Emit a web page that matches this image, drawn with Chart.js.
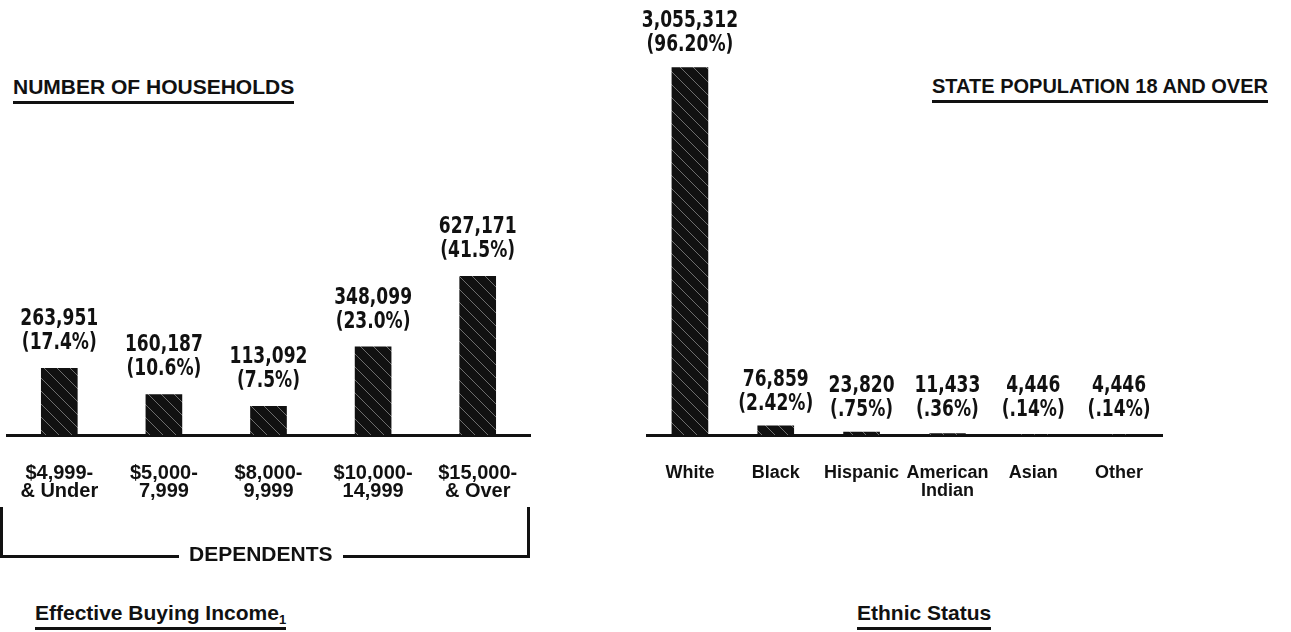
<!DOCTYPE html>
<html>
<head>
<meta charset="utf-8">
<script src="https://cdn.jsdelivr.net/npm/chart.js@4"></script>
<style>
body { margin: 0; background: #fff; width: 1291px; height: 632px; overflow: hidden; position: relative; font-family: "Liberation Sans", Arial, sans-serif; color: #111; }
canvas { position: absolute; }
.title { position: absolute; font-weight: bold; white-space: nowrap; border-bottom: 3px solid #111; line-height: 20px; height: 20px; }
.title sub { font-size: 13px; line-height: 0; vertical-align: -4px; }
.bracket { position: absolute; left: 0; top: 507px; width: 524px; height: 48px; border: 3px solid #111; border-top: none; }
.bracket span { position: absolute; left: 176px; top: 37px; padding: 0 10px; background: #fff; font-weight: bold; font-size: 21px; line-height: 20px; }
</style>
</head>
<body>
<div class="title" style="left:13px; top:77px; font-size:21px; padding-bottom:4px;">NUMBER OF HOUSEHOLDS</div>
<div class="title" style="right:23px; top:76px; font-size:20px; padding-bottom:4px;">STATE POPULATION 18 AND OVER</div>
<canvas id="incomeChart" width="572" height="540" style="left:-12px; top:0px;"></canvas>
<canvas id="ethnicChart" width="640" height="540" style="left:600px; top:0px;"></canvas>
<div class="bracket"><span>DEPENDENTS</span></div>
<div class="title" style="left:35px; top:603px; font-size:21px; padding-bottom:4px;">Effective Buying Income<sub>1</sub></div>
<div class="title" style="left:857px; top:603px; font-size:21px; padding-bottom:4px;">Ethnic Status</div>

<script>
// Effective buying income (number of households)
const incomeLabels = [['$4,999-', '& Under'], ['$5,000-', '7,999'], ['$8,000-', '9,999'], ['$10,000-', '14,999'], ['$15,000-', '& Over']];
const incomeCounts = [263951, 160187, 113092, 348099, 627171];
const incomePercents = [17.4, 10.6, 7.5, 23.0, 41.5];

// Ethnic status (state population 18 and over)
const ethnicLabels = [['White'], ['Black'], ['Hispanic'], ['American', 'Indian'], ['Asian'], ['Other']];
const ethnicCounts = [3055312, 76859, 23820, 11433, 4446, 4446];
const ethnicPercents = [96.20, 2.42, 0.75, 0.36, 0.14, 0.14];

function hatchPattern() {
    const c = document.createElement('canvas');
    c.width = 13; c.height = 13;
    const g = c.getContext('2d');
    g.fillStyle = '#111';
    g.fillRect(0, 0, 13, 13);
    g.strokeStyle = '#6e6e6e';
    g.lineWidth = 1;
    g.beginPath();
    g.moveTo(0, 0); g.lineTo(13, 13);
    g.stroke();
    return g.createPattern(c, 'repeat');
}

// draws "count" and "(pct%)" above each bar
const valueLabels = {
    id: 'valueLabels',
    afterDatasetsDraw(chart) {
        const cfg = chart.options.plugins.valueLabels;
        const ds = chart.data.datasets[0];
        const meta = chart.getDatasetMeta(0);
        const ctx = chart.ctx;
        const base = chart.scales.y.getPixelForValue(0);
        const put = (txt, x, y) => {
            ctx.save();
            ctx.translate(x, y);
            ctx.scale(1, 1.2);
            ctx.fillText(txt, 0, 0);
            ctx.restore();
        };
        ctx.save();
        ctx.fillStyle = '#111';
        ctx.font = 'bold 19px "DejaVu Sans Condensed", "Liberation Sans Narrow", sans-serif';
        ctx.textAlign = 'center';
        ctx.textBaseline = 'middle';
        meta.data.forEach((bar, i) => {
            let pct = ds.percents[i].toFixed(cfg.digits);
            if (pct.startsWith('0')) pct = pct.slice(1);
            const y = Math.min(bar.y - cfg.gap, base - 25);
            put(ds.data[i].toLocaleString('en-US'), bar.x, y - 24);
            put('(' + pct + '%)', bar.x, y);
        });
        ctx.restore();
    }
};

function barChart(id, labels, counts, percents, yMax, pad, digits, gap, tickSize) {
    const ctx = document.getElementById(id).getContext('2d');
    return new Chart(ctx, {
        type: 'bar',
        data: {
            labels: labels,
            datasets: [{
                data: counts,
                percents: percents,
                backgroundColor: hatchPattern(),
                borderWidth: 0,
                barThickness: 36
            }]
        },
        options: {
            responsive: false,
            animation: false,
            devicePixelRatio: 1,
            layout: { padding: pad },
            scales: {
                x: {
                    grid: { display: false, drawTicks: false },
                    border: { display: true, color: '#111', width: 3 },
                    ticks: {
                        color: '#111',
                        padding: 29,
                        autoSkip: false,
                        maxRotation: 0,
                        font: { family: '"Liberation Sans", Arial, sans-serif', size: tickSize, weight: 'bold', lineHeight: 18 / tickSize }
                    }
                },
                y: { display: false, min: 0, max: yMax }
            },
            plugins: {
                legend: { display: false },
                tooltip: { enabled: false },
                valueLabels: { digits: digits, gap: gap }
            }
        },
        plugins: [valueLabels]
    });
}

barChart('incomeChart', incomeLabels, incomeCounts, incomePercents, 1000000,
    { top: 182, left: 19, right: 30, bottom: 11 }, 1, 25, 20);
barChart('ethnicChart', ethnicLabels, ethnicCounts, ethnicPercents, 3500000,
    { top: 14, left: 47, right: 78, bottom: 11 }, 2, 22, 18);
</script>
</body>
</html>
